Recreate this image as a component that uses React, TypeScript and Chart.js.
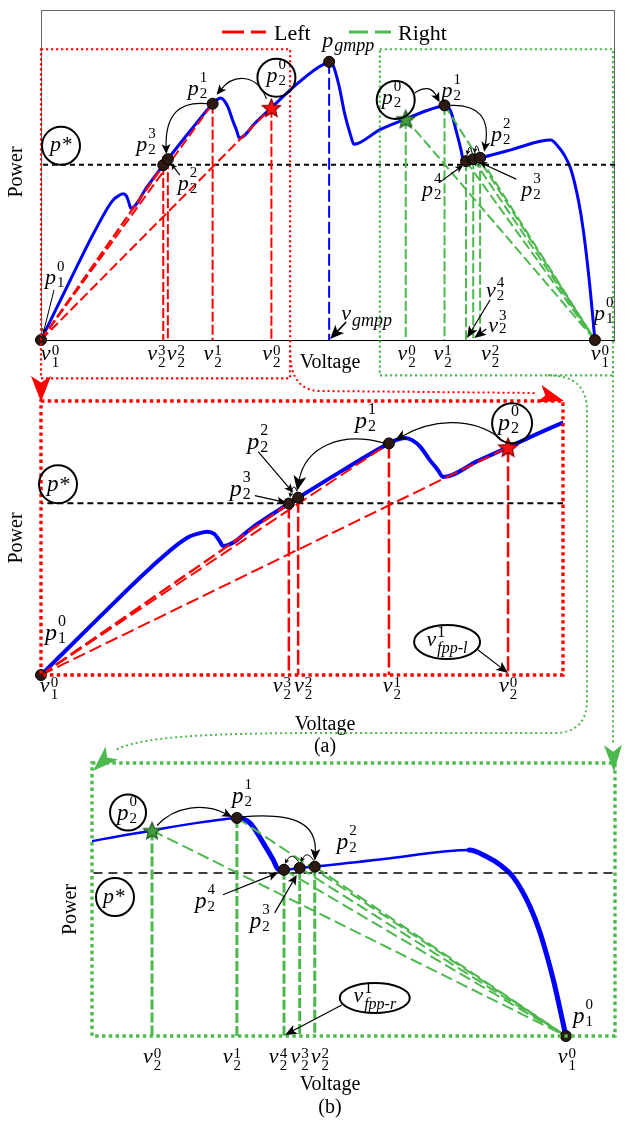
import React, { useEffect, useRef } from 'react';
import { Chart, registerables } from 'chart.js';
Chart.register(...registerables);

// ---------------- data (voltage / power in arbitrary units) ----------------
const curveV = [0, 5, 9.4, 12.5, 13.6, 14.3, 14.9, 15.3, 15.65, 18.5, 21.3, 22.1, 26, 29.9, 30.5, 31.3, 31.9, 32.6, 33.4, 34.1, 34.55, 37.5, 40.14, 44.6, 48, 49.4, 50.2, 50.8, 51.9, 52.95, 54.0, 54.5, 59, 63.54, 67, 69.3, 70.3, 71.35, 72.4, 73.2, 73.6, 74.05, 75.3, 76.5, 82, 87, 88.8, 90.2, 91.25, 92.3, 93.65, 94.45, 95.5, 96.5];
const curveP = [0, 17.8, 33.1, 42.3, 43.8, 44.3, 43.6, 41.7, 39.9, 46.5, 53.0, 54.8, 63.4, 71.6, 72.6, 73.3, 72.6, 70.5, 66.5, 63.4, 61.2, 66.1, 70.4, 77.6, 82.3, 83.7, 84.3, 83.6, 77.2, 68.2, 61.7, 59.3, 63.7, 67.0, 69.4, 70.7, 71.1, 69.4, 62.9, 57.4, 54.3, 54.2, 54.8, 55.2, 57.7, 60.2, 60.6, 58.4, 55.8, 51.8, 42.1, 33.6, 18.3, 0];
const pStar = 53.1;
// left search iterations p2^0..p2^3
const leftV = [40.14, 29.9, 22.1, 21.3];
const leftP = [70.4, 71.6, 54.8, 53.0];
// right search iterations p2^0..p2^4
const rightV = [63.54, 70.3, 76.5, 75.3, 74.05];
const rightP = [67.0, 71.1, 55.2, 54.8, 54.2];
const gmppV = 50.2;
const gmppP = 84.3;
const originLV = 0;
const originRV = 96.5;
const legendLabels = ['Left', 'Right'];
const xLabel = 'Voltage';
const yLabel = 'Power';
const panelTags = ['(a)', '(b)'];
// zoom windows marked in the top panel (data units)
const redBoxV = [0, 43.4];
const redBoxP = [-11.6, 88.1];
const greenBoxV = [59.03, 99.65];
const greenBoxP = [-10.7, 88.1];
// axis ranges of the three panels
const topRangeV = [0, 100];
const topRangeP = [0, 100];
const midRangeV = [0, 44.86];
const midRangeP = [0, 84.7];
const botRangeV = [58.76, 100.41];
const botRangeP = [0, 89];

// ---------------- styles ----------------
const FONT = '"Liberation Serif", "Times New Roman", serif';
const RED = '#ff0000';
const GREEN = '#4db84d';
const BLUE = '#0000ff';
const DOT = '#2b1912';

function font(size: number, italic: boolean) {
  return `${italic ? 'italic ' : ''}${size}px ${FONT}`;
}

type MOpts = { s?: number; ss?: number; supDy?: number; subDy?: number; subIt?: boolean; center?: boolean; gap?: number };

function ml(ctx: CanvasRenderingContext2D, x: number, y: number, base: string, sup: string, sub: string, o: MOpts = {}) {
  const s = o.s ?? 22;
  const ss = o.ss ?? 15;
  ctx.save();
  ctx.fillStyle = '#000';
  ctx.textAlign = 'left';
  ctx.textBaseline = 'alphabetic';
  ctx.font = font(s, true);
  const bw = ctx.measureText(base).width;
  ctx.font = font(ss, false);
  const supW = sup ? ctx.measureText(sup).width : 0;
  ctx.font = font(ss, !!o.subIt);
  const subW = sub ? ctx.measureText(sub).width : 0;
  const gap = o.gap ?? 1;
  const total = bw + gap + Math.max(supW, subW);
  const x0 = o.center ? x - total / 2 : x;
  ctx.font = font(s, true);
  ctx.fillText(base, x0, y);
  if (sup) {
    ctx.font = font(ss, false);
    ctx.fillText(sup, x0 + bw + gap, y + (o.supDy ?? -13));
  }
  if (sub) {
    ctx.font = font(ss, !!o.subIt);
    ctx.fillText(sub, x0 + bw + gap, y + (o.subDy ?? 3));
  }
  ctx.restore();
}

function text(ctx: CanvasRenderingContext2D, t: string, x: number, y: number, size: number, align: CanvasTextAlign = 'center') {
  ctx.save();
  ctx.fillStyle = '#000';
  ctx.font = font(size, false);
  ctx.textAlign = align;
  ctx.textBaseline = 'alphabetic';
  ctx.fillText(t, x, y);
  ctx.restore();
}

function vtext(ctx: CanvasRenderingContext2D, t: string, x: number, y: number, size: number) {
  ctx.save();
  ctx.translate(x, y);
  ctx.rotate(-Math.PI / 2);
  ctx.fillStyle = '#000';
  ctx.font = font(size, false);
  ctx.textAlign = 'center';
  ctx.textBaseline = 'middle';
  ctx.fillText(t, 0, 0);
  ctx.restore();
}

function pStarLabel(ctx: CanvasRenderingContext2D, x: number, y: number, s: number) {
  ctx.save();
  ctx.fillStyle = '#000';
  ctx.textAlign = 'left';
  ctx.textBaseline = 'alphabetic';
  ctx.font = font(s, true);
  ctx.fillText('p', x, y);
  const w = ctx.measureText('p').width;
  ctx.font = font(s - 1, false);
  ctx.fillText('*', x + w + 1, y);
  ctx.restore();
}

function circle(ctx: CanvasRenderingContext2D, x: number, y: number, r: number) {
  ctx.save();
  ctx.strokeStyle = '#000';
  ctx.lineWidth = 2;
  ctx.setLineDash([]);
  ctx.beginPath();
  ctx.arc(x, y, r, 0, Math.PI * 2);
  ctx.stroke();
  ctx.restore();
}

function ellipse(ctx: CanvasRenderingContext2D, x: number, y: number, rx: number, ry: number) {
  ctx.save();
  ctx.strokeStyle = '#000';
  ctx.lineWidth = 2;
  ctx.setLineDash([]);
  ctx.beginPath();
  ctx.ellipse(x, y, rx, ry, 0, 0, Math.PI * 2);
  ctx.stroke();
  ctx.restore();
}

function head(ctx: CanvasRenderingContext2D, from: number[], to: number[], len: number, hw: number, color: string) {
  const a = Math.atan2(to[1] - from[1], to[0] - from[0]);
  const c = Math.cos(a), s = Math.sin(a);
  ctx.save();
  ctx.fillStyle = color;
  ctx.beginPath();
  ctx.moveTo(to[0], to[1]);
  ctx.lineTo(to[0] - c * len - s * hw, to[1] - s * len + c * hw);
  ctx.lineTo(to[0] - c * len * 0.75, to[1] - s * len * 0.75);
  ctx.lineTo(to[0] - c * len + s * hw, to[1] - s * len - c * hw);
  ctx.closePath();
  ctx.fill();
  ctx.restore();
}

function arrow(ctx: CanvasRenderingContext2D, pts: number[][], o: { head?: number; hw?: number; lw?: number } = {}) {
  const hl = o.head ?? 10, hw = o.hw ?? 4.5, lw = o.lw ?? 1.2;
  const e = pts[pts.length - 1], p = pts[pts.length - 2];
  const a = Math.atan2(e[1] - p[1], e[0] - p[0]);
  const bx = e[0] - Math.cos(a) * hl * 0.7, by = e[1] - Math.sin(a) * hl * 0.7;
  ctx.save();
  ctx.strokeStyle = '#000';
  ctx.lineWidth = lw;
  ctx.setLineDash([]);
  ctx.beginPath();
  ctx.moveTo(pts[0][0], pts[0][1]);
  if (pts.length === 2) ctx.lineTo(bx, by);
  else if (pts.length === 3) ctx.quadraticCurveTo(pts[1][0], pts[1][1], bx, by);
  else ctx.bezierCurveTo(pts[1][0], pts[1][1], pts[2][0], pts[2][1], bx, by);
  ctx.stroke();
  ctx.restore();
  head(ctx, p, e, hl, hw, '#000');
}

function loop(ctx: CanvasRenderingContext2D, a: number[], b: number[]) {
  arrow(ctx, [[a[0] - 1, a[1] - 6], [(a[0] + b[0]) / 2, a[1] - 17], [b[0] + 1, b[1] - 6]], { head: 5, hw: 2.5, lw: 1 });
}

function dotted(ctx: CanvasRenderingContext2D, color: string, lw: number, dash: number[], draw: () => void) {
  ctx.save();
  ctx.strokeStyle = color;
  ctx.lineWidth = lw;
  ctx.setLineDash(dash);
  ctx.lineCap = 'butt';
  ctx.beginPath();
  draw();
  ctx.stroke();
  ctx.restore();
}

function makeStar(R: number, fill: string, stroke: string) {
  const c = document.createElement('canvas');
  const s = Math.ceil(2 * R + 4);
  c.width = s;
  c.height = s;
  const g = c.getContext('2d')!;
  g.translate(s / 2, s / 2 + 1);
  g.beginPath();
  for (let i = 0; i < 10; i++) {
    const r = i % 2 ? R * 0.45 : R;
    const a = -Math.PI / 2 + (i * Math.PI) / 5;
    g.lineTo(r * Math.cos(a), r * Math.sin(a));
  }
  g.closePath();
  g.fillStyle = fill;
  g.fill();
  g.lineWidth = 1.2;
  g.strokeStyle = stroke;
  g.stroke();
  return c;
}

type Style = {
  curveW: number; thickDown: boolean; chordW: number; chordDash: number[]; vertW: number; vertDash: number[];
  pStarW: number; pStarDash: number[]; dotR: number; starR: number; left: boolean; right: boolean; gmpp: boolean;
  redStar?: HTMLCanvasElement; greenStar?: HTMLCanvasElement;
};

const pt = (x: number, y: number) => ({ x, y });

function buildDatasets(st: Style) {
  const ds: any[] = [];
  const seg = (data: any[], color: string, w: number, dash: number[]) => ({
    data, borderColor: color, borderWidth: w, borderDash: dash, pointRadius: 0, tension: 0, fill: false, borderCapStyle: 'butt',
  });
  if (st.left) ds.push({ data: [pt(leftV[0], leftP[0])], showLine: false, pointStyle: st.redStar, pointRadius: st.starR, clip: false });
  if (st.right) ds.push({ data: [pt(rightV[0], rightP[0])], showLine: false, pointStyle: st.greenStar, pointRadius: st.starR, clip: false });
  const dots: any[] = [];
  if (st.left) {
    dots.push(pt(originLV, 0));
    for (let k = 1; k < leftV.length; k++) dots.push(pt(leftV[k], leftP[k]));
  }
  if (st.right) {
    for (let k = 1; k < rightV.length; k++) dots.push(pt(rightV[k], rightP[k]));
    dots.push(pt(originRV, 0));
  }
  if (st.gmpp) dots.push(pt(gmppV, gmppP));
  dots.sort((a, b) => a.x - b.x);
  ds.push({ data: dots, showLine: false, pointRadius: st.dotR, pointBackgroundColor: DOT, pointBorderColor: '#000', pointBorderWidth: 1, clip: false });
  if (st.left) {
    for (let k = 0; k < leftV.length; k++) ds.push(seg([pt(originLV, 0), pt(leftV[k], leftP[k])], RED, st.chordW, st.chordDash));
    for (let k = 0; k < leftV.length; k++) ds.push(seg([pt(leftV[k], leftP[k]), pt(leftV[k], 0)], RED, st.vertW, st.vertDash));
  }
  if (st.right) {
    for (let k = 0; k < rightV.length; k++) ds.push(seg([pt(rightV[k], rightP[k]), pt(originRV, 0)], GREEN, st.chordW, st.chordDash));
    for (let k = 0; k < rightV.length; k++) ds.push(seg([pt(rightV[k], rightP[k]), pt(rightV[k], 0)], GREEN, st.vertW, st.vertDash));
  }
  if (st.gmpp) ds.push(seg([pt(gmppV, gmppP), pt(gmppV, 0)], BLUE, 2, [12, 4]));
  ds.push(seg([pt(-100, pStar), pt(200, pStar)], '#000', st.pStarW, st.pStarDash));
  const curve: any = {
    data: curveV.map((v, i) => pt(v, curveP[i])),
    borderColor: BLUE, borderWidth: st.curveW, pointRadius: 0, fill: false,
    cubicInterpolationMode: 'monotone', borderJoinStyle: 'round', borderCapStyle: 'round',
  };
  if (st.thickDown) {
    curve.segment = { borderWidth: (c: any) => (c.p1.parsed.y < c.p0.parsed.y - 0.05 ? 5 : 2.5) };
  }
  ds.push(curve);
  return ds;
}

function makeConfig(st: Style, rangeV: number[], rangeP: number[], pad: any, plugin: any) {
  return {
    type: 'line' as const,
    data: { datasets: buildDatasets(st) },
    options: {
      animation: false as const,
      responsive: false,
      devicePixelRatio: 1,
      events: [] as any[],
      layout: { padding: pad },
      plugins: { legend: { display: false }, tooltip: { enabled: false } },
      scales: {
        x: { type: 'linear' as const, min: rangeV[0], max: rangeV[1], display: false },
        y: { type: 'linear' as const, min: rangeP[0], max: rangeP[1], display: false },
      },
    },
    plugins: [plugin],
  };
}

function helpers(chart: any) {
  const X = (v: number) => chart.scales.x.getPixelForValue(v);
  const Y = (p: number) => chart.scales.y.getPixelForValue(p);
  const L = leftV.map((v, i) => [X(v), Y(leftP[i])]);
  const R = rightV.map((v, i) => [X(v), Y(rightP[i])]);
  return { X, Y, L, R, ca: chart.chartArea, ctx: chart.ctx as CanvasRenderingContext2D };
}

const V_OPT: MOpts = { center: true, supDy: -5, subDy: 7 };

function frameTop(chart: any) {
  const { ctx, ca, Y } = helpers(chart);
  ctx.save();
  ctx.strokeStyle = '#666';
  ctx.lineWidth = 1;
  ctx.beginPath();
  ctx.moveTo(ca.left + 0.5, ca.bottom);
  ctx.lineTo(ca.left + 0.5, ca.top + 0.5);
  ctx.lineTo(ca.right - 0.5, ca.top + 0.5);
  ctx.lineTo(ca.right - 0.5, ca.bottom);
  ctx.stroke();
  ctx.strokeStyle = '#000';
  ctx.beginPath();
  ctx.moveTo(ca.left, Y(0) + 0.5);
  ctx.lineTo(ca.right, Y(0) + 0.5);
  ctx.stroke();
  ctx.restore();
}

function annTop(chart: any) {
  const { ctx, ca, X, Y, L, R } = helpers(chart);
  const y0 = Y(0);
  const G = [X(gmppV), Y(gmppP)];
  // zoom windows
  dotted(ctx, RED, 2.2, [2.2, 2.8], () => ctx.rect(X(redBoxV[0]), Y(redBoxP[1]), X(redBoxV[1]) - X(redBoxV[0]), Y(redBoxP[0]) - Y(redBoxP[1])));
  dotted(ctx, GREEN, 2.2, [2.2, 2.8], () => ctx.rect(X(greenBoxV[0]), Y(greenBoxP[1]), X(greenBoxV[1]) - X(greenBoxV[0]), Y(greenBoxP[0]) - Y(greenBoxP[1])));
  // legend
  const cx = (ca.left + ca.right) / 2;
  const ly = ca.top + 22;
  dotted(ctx, RED, 3, [22, 7], () => { ctx.moveTo(cx - 106, ly); ctx.lineTo(cx - 62, ly); });
  text(ctx, legendLabels[0], cx - 54, ly + 8, 22, 'left');
  dotted(ctx, GREEN, 3, [19, 7], () => { ctx.moveTo(cx + 21, ly); ctx.lineTo(cx + 63, ly); });
  text(ctx, legendLabels[1], cx + 70, ly + 8, 22, 'left');
  // p*
  const ps = Y(pStar);
  circle(ctx, ca.left + 20, ps - 19, 19);
  pStarLabel(ctx, ca.left + 9, ps - 14, 22);
  // gmpp
  ml(ctx, G[0] - 7, G[1] - 15, 'p', '', 'gmpp', { subIt: true, ss: 18, subDy: 4 });
  ml(ctx, G[0] + 12, y0 - 20, 'v', '', 'gmpp', { subIt: true, ss: 18, subDy: 6 });
  arrow(ctx, [[G[0] + 17, y0 - 18], [G[0] + 1, y0 - 1]], { head: 14, hw: 6, lw: 1.5 });
  // left side
  ml(ctx, L[1][0] - 25, L[1][1] - 9, 'p', '1', '2');
  circle(ctx, L[0][0] + 5, L[0][1] - 30, 19);
  ml(ctx, L[0][0] - 5, L[0][1] - 26, 'p', '0', '2');
  ml(ctx, L[3][0] - 27, L[3][1] - 14, 'p', '3', '2');
  ml(ctx, L[2][0] + 10, L[2][1] + 31, 'p', '2', '2');
  arrow(ctx, [[L[2][0] + 12, L[2][1] + 16], [L[2][0] + 3, L[2][1] + 4]], { head: 7, hw: 3 });
  arrow(ctx, [[L[0][0] - 5, L[0][1] - 9], [L[0][0] - 14, L[0][1] - 33], [L[1][0] + 22, L[1][1] - 31], [L[1][0] + 4, L[1][1] - 9]]);
  arrow(ctx, [[L[1][0] - 5, L[1][1]], [L[1][0] - 33, L[1][1] - 3], [L[3][0] + 2, L[3][1] - 51], [L[3][0] + 3, L[3][1] - 11]]);
  ml(ctx, X(originLV) + 4, y0 - 56, 'p', '0', '1');
  arrow(ctx, [[X(originLV) + 13, y0 - 50], [X(originLV) + 2, y0 - 6]], { head: 6, hw: 2.5, lw: 1 });
  const vl = (x: number, sup: string, sub: string) => ml(ctx, x, y0 + 20, 'v', sup, sub, V_OPT);
  vl(X(originLV) + 9, '0', '1');
  vl(L[3][0] - 7, '3', '2');
  vl(L[2][0] + 8, '2', '2');
  vl(L[1][0], '1', '2');
  vl(L[0][0], '0', '2');
  // right side
  circle(ctx, R[0][0] - 10, R[0][1] - 19, 19);
  ml(ctx, R[0][0] - 24, R[0][1] - 15, 'p', '0', '2');
  arrow(ctx, [[R[0][0] + 9, R[0][1] - 26], [R[0][0] + 24, R[0][1] - 36], [R[1][0] - 5, R[1][1] - 3]]);
  ml(ctx, R[1][0] - 3, R[1][1] - 8, 'p', '1', '2');
  arrow(ctx, [[R[1][0] + 6, R[1][1]], [R[1][0] + 34, R[1][1] - 1], [R[2][0] + 10, R[2][1] - 40], [R[2][0] + 4, R[2][1] - 6]]);
  ml(ctx, R[2][0] + 11, R[2][1] - 17, 'p', '2', '2');
  loop(ctx, R[2], R[3]);
  loop(ctx, R[3], R[4]);
  ml(ctx, R[4][0] - 44, R[4][1] + 35, 'p', '4', '2');
  arrow(ctx, [[R[4][0] - 26, R[4][1] + 21], [R[4][0] - 3, R[4][1] + 4]], { head: 8, hw: 3.5 });
  ml(ctx, R[3][0] + 48, R[3][1] + 37, 'p', '3', '2');
  arrow(ctx, [[R[3][0] + 43, R[3][1] + 20], [R[3][0] + 6, R[3][1] + 3]], { head: 8, hw: 3.5 });
  ml(ctx, X(originRV) - 1, y0 - 20, 'p', '0', '1');
  ml(ctx, R[4][0] + 20, y0 - 43, 'v', '4', '2', { supDy: -10, subDy: 3 });
  arrow(ctx, [[R[4][0] + 24, y0 - 40], [R[4][0] + 1, y0 - 2]], { head: 12, hw: 5 });
  ml(ctx, R[3][0] + 15, y0 - 8, 'v', '3', '2', { supDy: -12, subDy: 1 });
  arrow(ctx, [[R[3][0] + 13, y0 - 11], [R[3][0] + 1, y0 - 2]], { head: 12, hw: 5 });
  vl(R[0][0] + 1, '0', '2');
  vl(R[1][0] - 2, '1', '2');
  vl(R[2][0] + 10, '2', '2');
  vl(X(originRV) + 5, '0', '1');
  // axis titles
  text(ctx, xLabel, X(50) + 2, y0 + 28, 20);
  vtext(ctx, yLabel, 17, (ca.top + ca.bottom) / 2 - 3, 20);
}

function annMid(chart: any) {
  const { ctx, ca, X, Y, L } = helpers(chart);
  const y0 = Y(0);
  const P: MOpts = { s: 24, ss: 16, supDy: -14, subDy: 3 };
  dotted(ctx, RED, 3.4, [3.4, 3.4], () => ctx.rect(ca.left, ca.top, ca.right - ca.left, ca.bottom - ca.top));
  const ps = Y(pStar);
  circle(ctx, ca.left + 17, ps - 19, 19);
  pStarLabel(ctx, ca.left + 6, ps - 12, 23);
  ml(ctx, L[2][0] - 51, L[2][1] - 49, 'p', '2', '2', P);
  arrow(ctx, [[L[2][0] - 40, L[2][1] - 46], [L[2][0] - 5, L[2][1] - 5]], { head: 9, hw: 4 });
  ml(ctx, L[3][0] - 59, L[3][1] - 8, 'p', '3', '2', P);
  arrow(ctx, [[L[3][0] - 34, L[3][1] - 8], [L[3][0] - 3, L[3][1] - 1]], { head: 9, hw: 4 });
  arrow(ctx, [[L[1][0] - 4, L[1][1]], [L[1][0] - 49, L[1][1] - 13], [L[2][0] + 7, L[2][1] - 50], [L[2][0] - 1, L[2][1] - 7]], { head: 15, hw: 6.5 });
  circle(ctx, L[0][0] + 4, L[0][1] - 24, 20);
  ml(ctx, L[0][0] - 10, L[0][1] - 17, 'p', '0', '2', P);
  arrow(ctx, [[L[0][0] - 8, L[0][1] - 9], [L[0][0] - 38, L[0][1] - 32], [L[1][0] + 41, L[1][1] - 23], [L[1][0] + 6, L[1][1] - 3]], { head: 12, hw: 5 });
  ml(ctx, L[1][0] - 34, L[1][1] - 15, 'p', '1', '2', P);
  loop(ctx, L[2], L[3]);
  ml(ctx, X(originLV) + 4, y0 - 35, 'p', '0', '1', P);
  const vl = (x: number, sup: string, sub: string) => ml(ctx, x, y0 + 17, 'v', sup, sub, V_OPT);
  vl(X(originLV) + 8, '0', '1');
  vl(L[3][0] - 7, '3', '2');
  vl(L[2][0] + 5, '2', '2');
  vl(L[1][0] + 3, '1', '2');
  vl(L[0][0], '0', '2');
  const ex = L[0][0] - 61, ey = y0 - 33;
  ellipse(ctx, ex, ey, 33, 17);
  ml(ctx, ex, ey + 4, 'v', '1', 'fpp-l', { center: true, ss: 16, subIt: true, supDy: -9, subDy: 7 });
  arrow(ctx, [[ex + 31, ey + 8], [L[0][0], y0 - 2]], { head: 12, hw: 5 });
  text(ctx, xLabel, ca.left + 284, y0 + 55, 20);
  text(ctx, panelTags[0], ca.left + 284, y0 + 77, 20);
  vtext(ctx, yLabel, 17, (ca.top + ca.bottom) / 2, 20);
}

function annBot(chart: any) {
  const { ctx, ca, X, Y, R } = helpers(chart);
  const y0 = Y(0);
  const P: MOpts = { s: 23, ss: 15, supDy: -14, subDy: 3 };
  dotted(ctx, GREEN, 3.4, [3.4, 3.4], () => ctx.rect(ca.left, ca.top, ca.right - ca.left, ca.bottom - ca.top));
  circle(ctx, R[0][0] - 24, R[0][1] - 18, 18);
  ml(ctx, R[0][0] - 35, R[0][1] - 10, 'p', '0', '2', P);
  arrow(ctx, [[R[0][0] + 5, R[0][1] - 5], [R[0][0] + 23, R[0][1] - 25], [R[1][0] - 32, R[1][1] - 15], [R[1][0] - 5, R[1][1] - 1]], { head: 10, hw: 4.5 });
  ml(ctx, R[1][0] - 5, R[1][1] - 15, 'p', '1', '2', P);
  arrow(ctx, [[R[1][0] + 5, R[1][1] - 1], [R[1][0] + 63, R[1][1] - 6], [R[2][0] + 2, R[2][1] - 40], [R[2][0], R[2][1] - 6]], { head: 12, hw: 5 });
  ml(ctx, R[2][0] + 22, R[2][1] - 18, 'p', '2', '2', P);
  loop(ctx, R[2], R[3]);
  loop(ctx, R[3], R[4]);
  ml(ctx, R[4][0] - 89, R[4][1] + 38, 'p', '4', '2', P);
  arrow(ctx, [[R[4][0] - 61, R[4][1] + 25], [R[4][0] - 6, R[4][1] + 3]], { head: 10, hw: 4.5 });
  ml(ctx, R[3][0] - 50, R[3][1] + 60, 'p', '3', '2', P);
  arrow(ctx, [[R[3][0] - 25, R[3][1] + 45], [R[3][0] - 3, R[3][1] + 7]], { head: 10, hw: 4.5 });
  const ps = Y(pStar);
  circle(ctx, ca.left + 23, ps + 24, 19);
  pStarLabel(ctx, ca.left + 11, ps + 30, 22);
  const ox = X(originRV);
  ml(ctx, ox + 7, y0 - 13, 'p', '0', '1', P);
  const vl = (x: number, sup: string, sub: string) => ml(ctx, x, y0 + 27, 'v', sup, sub, V_OPT);
  vl(ox + 1, '0', '1');
  vl(R[0][0], '0', '2');
  vl(R[1][0] - 5, '1', '2');
  vl(R[4][0] - 6, '4', '2');
  vl(R[3][0], '3', '2');
  vl(R[2][0] + 5, '2', '2');
  const ex = R[2][0] + 60, ey = y0 - 38;
  ellipse(ctx, ex, ey, 35, 15);
  ml(ctx, ex, ey + 4, 'v', '1', 'fpp-r', { center: true, ss: 16, subIt: true, supDy: -9, subDy: 7 });
  arrow(ctx, [[ex - 33, ey + 7], [R[4][0] + 1, y0 - 1]], { head: 12, hw: 5 });
  text(ctx, xLabel, ca.left + 238, y0 + 54, 20);
  text(ctx, panelTags[1], ca.left + 238, y0 + 77, 20);
  vtext(ctx, yLabel, 71, (ca.top + ca.bottom) / 2 + 10, 20);
}

function connectors(chart: any, charts: any) {
  const ctx = chart.ctx as CanvasRenderingContext2D;
  const top = charts.top, mid = charts.mid;
  if (!top || !mid) return;
  const TX = (v: number) => top.scales.x.getPixelForValue(v);
  const TY = (p: number) => top.scales.y.getPixelForValue(p);
  const M = mid.chartArea;
  const B = chart.chartArea;
  const rb = TY(redBoxP[0]), rr = TX(redBoxV[1]), rl = TX(redBoxV[0]);
  const gb = TY(greenBoxP[0]), gr = TX(greenBoxV[1]);
  // red: to top-left corner of (a)
  head(ctx, [rl, rb - 4], [M.left, M.top + 1], 26, 10, RED);
  // red: to top-right corner of (a)
  dotted(ctx, RED, 2, [2, 3], () => {
    ctx.moveTo(rr, rb - 28);
    ctx.quadraticCurveTo(rr, M.top - 10, rr + 30, M.top - 10);
    ctx.lineTo(M.right - 26, M.top - 8);
  });
  head(ctx, [M.right - 26, M.top - 8], [M.right + 1, M.top], 26, 9, RED);
  // green: to top-right corner of (b)
  dotted(ctx, GREEN, 2, [2, 3], () => {
    ctx.moveTo(gr, gb);
    ctx.lineTo(gr, B.top - 18);
  });
  head(ctx, [gr, B.top - 18], [gr + 1, B.top + 9], 27, 9, GREEN);
  // green: to top-left corner of (b)
  const vx = M.right + 24, hy = M.bottom + 58, sx = M.right - 15;
  dotted(ctx, GREEN, 2, [2, 3], () => {
    ctx.moveTo(sx, gb);
    ctx.quadraticCurveTo(vx, gb, vx, gb + 35);
    ctx.lineTo(vx, hy - 33);
    ctx.quadraticCurveTo(vx, hy, vx - 33, hy);
    ctx.lineTo(M.left + 289, hy);
    ctx.bezierCurveTo(M.left + 160, hy, B.left + 45, hy + 4, B.left + 22, B.top - 12);
  });
  head(ctx, [B.left + 22, B.top - 12], [B.left + 1, B.top + 8], 26, 9, GREEN);
}

export default function App() {
  const r1 = useRef<HTMLCanvasElement>(null);
  const r2 = useRef<HTMLCanvasElement>(null);
  const r3 = useRef<HTMLCanvasElement>(null);
  useEffect(() => {
    const charts: any = {};
    const base = { thickDown: false, pStarW: 2 };
    const topStyle: Style = {
      ...base, curveW: 3, chordW: 2, chordDash: [10, 4], vertW: 2, vertDash: [10, 3], pStarDash: [5, 4],
      dotR: 5.5, starR: 9, left: true, right: true, gmpp: true,
      redStar: makeStar(9.5, '#ff1010', '#7a0000'), greenStar: makeStar(9.5, '#3f9f3f', '#1f4f1f'),
    };
    const midStyle: Style = {
      ...base, curveW: 4, chordW: 2, chordDash: [13, 5], vertW: 2.5, vertDash: [15, 4], pStarDash: [6, 4],
      dotR: 5.5, starR: 10, left: true, right: false, gmpp: false,
      redStar: makeStar(10, '#ff1010', '#7a0000'),
    };
    const botStyle: Style = {
      ...base, thickDown: true, curveW: 2.5, chordW: 2, chordDash: [12, 5], vertW: 3, vertDash: [10, 3], pStarW: 1.5, pStarDash: [9, 6],
      dotR: 5.5, starR: 9, left: false, right: true, gmpp: false,
      greenStar: makeStar(9, '#3f9f3f', '#1f4f1f'),
    };
    charts.top = new Chart(r1.current!, makeConfig(topStyle, topRangeV, topRangeP, { left: 41, top: 3, right: 8, bottom: 782 },
      { id: 'annTop', beforeDatasetsDraw: (c: any) => frameTop(c), afterDatasetsDraw: (c: any) => annTop(c) }) as any);
    charts.mid = new Chart(r2.current!, makeConfig(midStyle, midRangeV, midRangeP, { left: 41, top: 401, right: 62, bottom: 447 },
      { id: 'annMid', afterDatasetsDraw: (c: any) => annMid(c) }) as any);
    charts.bot = new Chart(r3.current!, makeConfig(botStyle, botRangeV, botRangeP, { left: 92, top: 763, right: 10, bottom: 86 },
      { id: 'annBot', afterDatasetsDraw: (c: any) => { annBot(c); connectors(c, charts); } }) as any);
    return () => {
      charts.bot.destroy();
      charts.mid.destroy();
      charts.top.destroy();
    };
  }, []);
  const cs: React.CSSProperties = { position: 'absolute', left: 0, top: 0 };
  return (
    <div style={{ position: 'absolute', left: 0, top: 0, width: 625, height: 1122, background: '#fff' }}>
      <canvas ref={r1} width={625} height={1122} style={cs} />
      <canvas ref={r2} width={625} height={1122} style={cs} />
      <canvas ref={r3} width={625} height={1122} style={cs} />
    </div>
  );
}
